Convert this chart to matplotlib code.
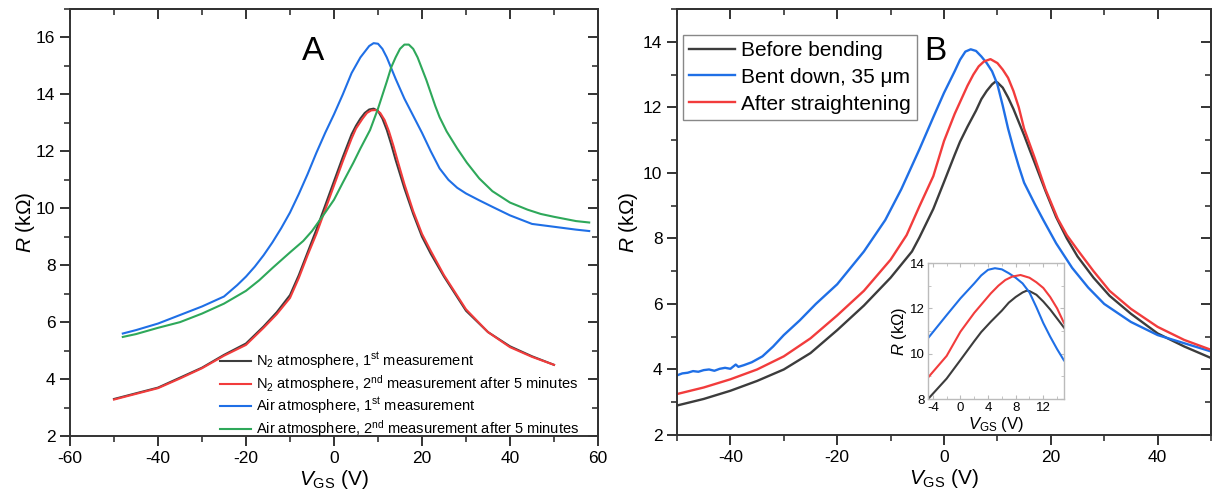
import matplotlib
matplotlib.use('Agg')
import matplotlib.pyplot as plt
from matplotlib.ticker import MultipleLocator

plt.rcParams['font.family'] = ['Liberation Sans', 'DejaVu Sans']
plt.rcParams['mathtext.fontset'] = 'custom'
plt.rcParams['mathtext.rm'] = 'Liberation Sans'
plt.rcParams['mathtext.it'] = 'Liberation Sans:italic'
plt.rcParams['axes.unicode_minus'] = False

# ---- panel A data (V_GS in V, R in kOhm) ----
n2_1_v = [-50, -45, -40, -35, -30, -25, -20, -16, -13, -10, -8, -6, -4, -2, 0, 2, 4, 5, 6, 7, 8, 9, 10, 11, 12, 13, 14, 16, 18, 20, 22, 25, 30, 35, 40, 45, 50]
n2_1_r = [3.3, 3.5, 3.7, 4.05, 4.4, 4.85, 5.25, 5.85, 6.35, 6.95, 7.65, 8.45, 9.25, 10.1, 10.95, 11.8, 12.6, 12.9, 13.15, 13.35, 13.47, 13.5, 13.42, 13.15, 12.75, 12.25, 11.7, 10.7, 9.8, 9.0, 8.4, 7.6, 6.4, 5.65, 5.15, 4.8, 4.5]

n2_2_v = [-50, -45, -40, -35, -30, -25, -20, -16, -13, -10, -8, -6, -4, -2, 0, 2, 4, 5, 6.5, 7.5, 8.5, 9.5, 10.5, 11.5, 12.5, 13.5, 14.5, 16, 18, 20, 22, 25, 30, 35, 40, 45, 50]
n2_2_r = [3.28, 3.48, 3.68, 4.02, 4.38, 4.82, 5.2, 5.8, 6.28, 6.85, 7.55, 8.35, 9.1, 9.95, 10.8, 11.65, 12.45, 12.8, 13.15, 13.35, 13.44, 13.45, 13.35, 13.1, 12.7, 12.2, 11.65, 10.85, 9.9, 9.1, 8.5, 7.65, 6.45, 5.65, 5.12, 4.78, 4.5]

air_1_v = [-48, -45, -40, -35, -30, -25, -22, -20, -18, -16, -14, -12, -10, -8, -6, -4, -2, 0, 2, 4, 6, 8, 9, 10, 11, 12, 14, 16, 18, 20, 22, 24, 26, 28, 30, 33, 36, 40, 45, 50, 55, 58]
air_1_r = [5.6, 5.72, 5.95, 6.25, 6.55, 6.9, 7.3, 7.6, 7.95, 8.35, 8.8, 9.3, 9.85, 10.5, 11.2, 11.95, 12.65, 13.3, 14.0, 14.75, 15.3, 15.7, 15.8, 15.78, 15.6, 15.3, 14.55, 13.85, 13.25, 12.65, 12.0, 11.4, 11.0, 10.72, 10.52, 10.28, 10.05, 9.75, 9.45, 9.35, 9.25, 9.2]

air_2_v = [-48, -45, -40, -35, -30, -25, -20, -17, -14, -10, -7, -5, -2, 0, 2, 4.4, 6, 8.2, 10, 12, 13, 14, 15, 16, 17, 18, 19, 20, 21, 22, 23, 24, 25.6, 28, 30.2, 33, 36, 40, 44, 47, 50, 55, 58]
air_2_r = [5.48, 5.58, 5.8, 6.0, 6.3, 6.65, 7.1, 7.47, 7.9, 8.45, 8.85, 9.2, 9.85, 10.3, 10.9, 11.6, 12.1, 12.75, 13.5, 14.45, 14.95, 15.3, 15.6, 15.75, 15.75, 15.6, 15.3, 14.9, 14.5, 14.05, 13.6, 13.2, 12.7, 12.1, 11.6, 11.05, 10.6, 10.2, 9.95, 9.8, 9.7, 9.55, 9.5]

labels_a = [r'N$_2$ atmosphere, 1$^{\rm st}$ measurement',
            r'N$_2$ atmosphere, 2$^{\rm nd}$ measurement after 5 minutes',
            r'Air atmosphere, 1$^{\rm st}$ measurement',
            r'Air atmosphere, 2$^{\rm nd}$ measurement after 5 minutes']

# ---- panel B data ----
before_v = [-50, -45, -40, -35, -30, -25, -20, -15, -10, -6, -4.6, -2, 0, 2, 3, 4.4, 6, 7, 8, 9, 9.6, 10, 11, 12, 13, 14, 15, 16, 17, 19, 21, 23, 25, 28, 31, 35, 40, 45, 50]
before_r = [2.9, 3.1, 3.35, 3.65, 4.0, 4.5, 5.2, 5.95, 6.8, 7.6, 8.03, 8.9, 9.72, 10.55, 10.95, 11.41, 11.9, 12.25, 12.5, 12.7, 12.78, 12.76, 12.6, 12.3, 11.95, 11.55, 11.15, 10.72, 10.3, 9.45, 8.65, 8.0, 7.45, 6.8, 6.25, 5.7, 5.1, 4.7, 4.35]

bent_v = [-50, -49, -48, -47, -46, -45, -44, -43, -42, -41, -40, -39, -38.5, -37.5, -36, -34, -32, -30, -27, -24, -20, -15, -11, -8, -4.6, -2, 0, 2, 3, 4, 5, 6, 7, 8, 9, 10, 11, 12, 13, 14, 15, 17, 18.6, 21, 24, 27, 30, 35, 40, 45, 50]
bent_r = [3.82, 3.88, 3.9, 3.95, 3.93, 3.98, 4.0, 3.96, 4.02, 4.05, 4.02, 4.15, 4.08, 4.13, 4.22, 4.4, 4.7, 5.05, 5.5, 6.0, 6.6, 7.6, 8.56, 9.5, 10.72, 11.7, 12.44, 13.1, 13.45, 13.7, 13.77, 13.72, 13.55, 13.35, 13.1, 12.7, 12.05, 11.35, 10.75, 10.2, 9.7, 9.05, 8.56, 7.85, 7.1, 6.5, 6.0, 5.45, 5.05, 4.8, 4.55]

after_v = [-50, -45, -40, -35, -30, -25, -20, -15, -10, -7, -4.6, -2, 0, 2, 4.4, 5.5, 6.5, 7.5, 8.7, 10, 11, 12, 13, 14, 15, 17, 19, 21.3, 23, 25, 28, 31, 35, 40, 45, 50]
after_r = [3.25, 3.45, 3.7, 4.0, 4.4, 4.95, 5.65, 6.4, 7.35, 8.1, 8.98, 9.9, 10.97, 11.8, 12.66, 13.0, 13.25, 13.4, 13.47, 13.35, 13.15, 12.9, 12.5, 12.0, 11.35, 10.45, 9.5, 8.6, 8.1, 7.65, 7.0, 6.4, 5.85, 5.3, 4.9, 4.6]

labels_b = ['Before bending', 'Bent down, 35 μm', 'After straightening']

c_black = '#3c3c3c'
c_red = '#f23c3c'
c_blue = '#1f6fe6'
c_green = '#2ea85a'
spine_c = '#333333'


def style_axes(ax, xmaj, xmin, ymaj, ymin):
    for s in ax.spines.values():
        s.set_color(spine_c)
        s.set_linewidth(1.4)
    ax.xaxis.set_major_locator(MultipleLocator(xmaj))
    ax.xaxis.set_minor_locator(MultipleLocator(xmin))
    ax.yaxis.set_major_locator(MultipleLocator(ymaj))
    ax.yaxis.set_minor_locator(MultipleLocator(ymin))
    ax.tick_params(which='major', direction='out', length=7, width=1.4, color=spine_c, labelsize=12.5)
    ax.tick_params(which='minor', direction='out', length=4, width=1.2, color=spine_c)
    top = ax.secondary_xaxis('top')
    top.xaxis.set_major_locator(MultipleLocator(xmaj))
    top.xaxis.set_minor_locator(MultipleLocator(xmin))
    top.tick_params(which='major', direction='in', length=7, width=1.4, color=spine_c, labeltop=False)
    top.tick_params(which='minor', direction='in', length=4, width=1.2, color=spine_c)
    right = ax.secondary_yaxis('right')
    right.yaxis.set_major_locator(MultipleLocator(ymaj))
    right.yaxis.set_minor_locator(MultipleLocator(ymin))
    right.tick_params(which='major', direction='in', length=7, width=1.4, color=spine_c, labelright=False)
    right.tick_params(which='minor', direction='in', length=4, width=1.2, color=spine_c)
    for sec in (top, right):
        for s in sec.spines.values():
            s.set_color(spine_c)
            s.set_linewidth(1.4)


fig = plt.figure(figsize=(12.14, 5), dpi=100)

# ---------------- panel A ----------------
axA = fig.add_axes([70 / 1214, 64 / 500, 528 / 1214, 427 / 500])
axA.plot(n2_1_v, n2_1_r, color=c_black, lw=1.5, label=labels_a[0])
axA.plot(n2_2_v, n2_2_r, color=c_red, lw=1.5, label=labels_a[1])
axA.plot(air_1_v, air_1_r, color=c_blue, lw=1.5, label=labels_a[2])
axA.plot(air_2_v, air_2_r, color=c_green, lw=1.5, label=labels_a[3])
axA.set_xlim(-60, 60)
axA.set_ylim(2, 17)
style_axes(axA, 20, 10, 2, 1)
axA.set_xlabel(r'$V_{\rm GS}$ (V)', fontsize=15, labelpad=2)
axA.set_ylabel(r'$R$ (k$\Omega$)', fontsize=15, labelpad=-1)
axA.text(0.46, 0.9, 'A', transform=axA.transAxes, fontsize=24, ha='center', va='center')
axA.legend(loc='upper left', bbox_to_anchor=(0.285, 0.2), frameon=False, fontsize=10.5,
           borderaxespad=0, borderpad=0, labelspacing=0.13, handlelength=2.1, handletextpad=0.35)

# ---------------- panel B ----------------
axB = fig.add_axes([677 / 1214, 65 / 500, 534 / 1214, 426 / 500])
axB.plot(before_v, before_r, color=c_black, lw=1.7, label=labels_b[0])
axB.plot(bent_v, bent_r, color=c_blue, lw=1.7, label=labels_b[1])
axB.plot(after_v, after_r, color=c_red, lw=1.7, label=labels_b[2])
axB.set_xlim(-50, 50)
axB.set_ylim(2, 15)
style_axes(axB, 20, 10, 2, 1)
axB.set_xlabel(r'$V_{\rm GS}$ (V)', fontsize=15, labelpad=2)
axB.set_ylabel(r'$R$ (k$\Omega$)', fontsize=15, labelpad=2)
axB.text(0.483, 0.9, 'B', transform=axB.transAxes, fontsize=24, ha='center', va='center')
legB = axB.legend(loc='upper left', bbox_to_anchor=(0.011, 0.94), fontsize=15, fancybox=False,
                  edgecolor='#888888', framealpha=1, borderaxespad=0, borderpad=0.3,
                  labelspacing=0.38, handlelength=2.2, handletextpad=0.3)
legB.get_frame().set_linewidth(1.0)

# inset
axI = fig.add_axes([928 / 1214, 101 / 500, 136 / 1214, 136 / 500])
axI.plot(before_v, before_r, color=c_black, lw=1.5)
axI.plot(bent_v, bent_r, color=c_blue, lw=1.5)
axI.plot(after_v, after_r, color=c_red, lw=1.5)
axI.set_xlim(-4.7, 15)
axI.set_ylim(8, 14)
for s in axI.spines.values():
    s.set_color('#bbbbbb')
    s.set_linewidth(1.0)
axI.xaxis.set_major_locator(MultipleLocator(4))
axI.xaxis.set_minor_locator(MultipleLocator(2))
axI.yaxis.set_major_locator(MultipleLocator(2))
axI.yaxis.set_minor_locator(MultipleLocator(1))
axI.tick_params(which='both', direction='in', color='#bbbbbb', labelsize=9.5, pad=2,
                top=True, right=True)
axI.tick_params(which='major', length=3)
axI.tick_params(which='minor', length=2)
axI.set_xlabel(r'$V_{\rm GS}$ (V)', fontsize=12, labelpad=1)
axI.set_ylabel(r'$R$ (k$\Omega$)', fontsize=12, labelpad=1)

fig.savefig('out.png', dpi=100)
